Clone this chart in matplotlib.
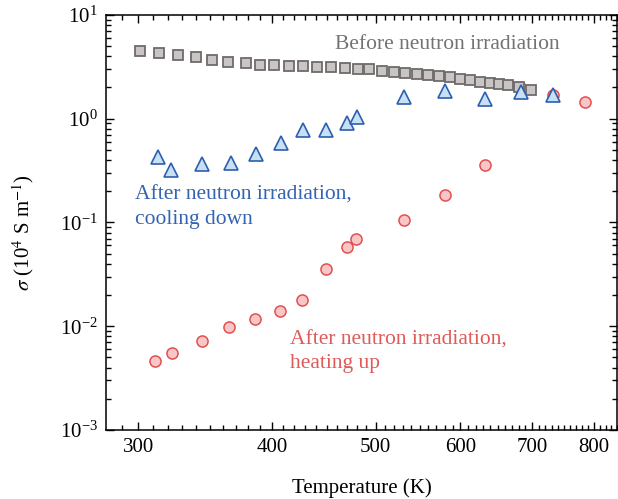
# conductivity vs temperature, before / after neutron irradiation

import matplotlib
matplotlib.use("Agg")
import matplotlib.pyplot as plt
from matplotlib.ticker import FixedLocator, NullFormatter, LogLocator

plt.rcParams["font.family"] = ["Liberation Serif", "DejaVu Serif"]
plt.rcParams["mathtext.fontset"] = "stix"

# before irradiation (gray squares)
t_before = [301, 314, 327, 340, 352, 364, 378, 390, 402, 415, 428, 441, 454,
            468, 481, 493, 507, 520, 533, 547, 560, 573, 587, 599, 612, 626,
            639, 652, 665, 680, 699]
s_before = [4.53, 4.27, 4.12, 3.97, 3.66, 3.55, 3.42, 3.32, 3.27, 3.22, 3.20,
            3.18, 3.13, 3.06, 3.04, 2.99, 2.91, 2.84, 2.78, 2.72, 2.64, 2.58,
            2.51, 2.40, 2.35, 2.28, 2.21, 2.16, 2.10, 2.02, 1.89]

# after irradiation, cooling down (blue triangles)
t_cool = [313, 322, 344, 366, 387, 408, 428, 449, 470, 480, 531, 581, 633, 683, 732]
s_cool = [0.431, 0.318, 0.366, 0.372, 0.454, 0.588, 0.779, 0.779, 0.916, 1.03,
          1.63, 1.84, 1.56, 1.82, 1.68]

# after irradiation, heating up (red circles)
t_heat = [311, 323, 344, 365, 386, 407, 427, 449, 470, 479, 531, 580, 633, 683, 732, 784]
s_heat = [0.00466, 0.00548, 0.00726, 0.00977, 0.0117, 0.0141, 0.0180, 0.0359,
          0.0581, 0.0689, 0.106, 0.183, 0.356, 1.97, 1.71, 1.45]

xticks = [300, 400, 500, 600, 700, 800]

fig = plt.figure(figsize=(6.18, 4.99), dpi=100)
ax = fig.add_axes([0.1715, 0.1383, 0.8265, 0.8317])

ax.plot(t_heat, s_heat, "o", ms=8, mfc="#f9c6c8", mec="#e05050", mew=1.1, ls="none")
ax.plot(t_before, s_before, "s", ms=7, mfc="#c9c5c5", mec="#6f6b6b", mew=1.3, ls="none")
ax.plot(t_cool, s_cool, "^", ms=9.5, mfc="#c8e0f4", mec="#2d5fb0", mew=1.2, ls="none")

ax.set_xscale("log")
ax.set_yscale("log")
ax.set_xlim(280, 840)
ax.set_ylim(1e-3, 10)

ax.xaxis.set_major_locator(FixedLocator(xticks))
ax.xaxis.set_minor_locator(FixedLocator([t for t in range(290, 841, 10) if t not in xticks]))
ax.xaxis.set_minor_formatter(NullFormatter())
ax.set_xticklabels([str(t) for t in xticks])
ax.yaxis.set_major_locator(LogLocator(base=10, numticks=10))
ax.yaxis.set_minor_locator(LogLocator(base=10, subs=range(2, 10), numticks=20))

ax.tick_params(which="both", direction="in", top=True, right=True, labelsize=15, width=1)
ax.tick_params(which="major", length=6, pad=6)
ax.tick_params(which="minor", length=3.5)
for sp in ax.spines.values():
    sp.set_linewidth(1.1)

ax.set_xlabel("Temperature (K)", fontsize=15)
ax.xaxis.set_label_coords(0.5, -0.116)
ax.set_ylabel(r"$\sigma$ (10$^4$ S m$^{-1}$)", fontsize=15)
ax.yaxis.set_label_coords(-0.137, 0.475)

ax.text(458, 5.25, "Before neutron irradiation", color="#737373", fontsize=15.5,
        va="center", ha="left")
ax.text(298, 0.14, "After neutron irradiation,\ncooling down", color="#3463b2",
        fontsize=15.5, va="center", ha="left", linespacing=1.36)
ax.text(416, 0.0057, "After neutron irradiation,\nheating up", color="#e05a5a",
        fontsize=15.5, va="center", ha="left", linespacing=1.32)

fig.savefig("out.png", dpi=100)
